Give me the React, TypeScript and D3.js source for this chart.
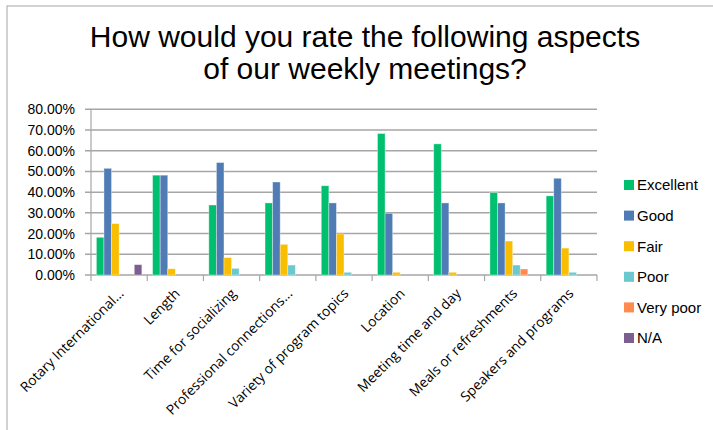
import React from 'react'
import * as d3 from 'd3'

const categories = [
  'Rotary International...',
  'Length',
  'Time for socializing',
  'Professional connections...',
  'Variety of program topics',
  'Location',
  'Meeting time and day',
  'Meals or refreshments',
  'Speakers and programs',
]

const seriesNames = ['Excellent', 'Good', 'Fair', 'Poor', 'Very poor', 'N/A']
const seriesColors = ['#00bf6f', '#507cb6', '#f9be00', '#6bc8cd', '#ff8b4f', '#7d5e90']

// percentages per category, in series order
const excellent = [18.2, 48.2, 33.8, 34.8, 43.1, 68.3, 63.3, 39.8, 38.2]
const good = [51.5, 48.2, 54.3, 44.9, 34.8, 29.8, 34.8, 34.8, 46.7]
const fair = [24.8, 3.0, 8.4, 14.8, 19.8, 1.3, 1.3, 16.4, 13.0]
const poor = [0, 0, 3.2, 4.8, 1.3, 0, 0, 4.8, 1.3]
const veryPoor = [0, 0, 0, 0, 0, 0, 0, 2.9, 0]
const na = [5.0, 0, 0, 0, 0, 0, 0, 0, 0]

const yTicks = [0, 10, 20, 30, 40, 50, 60, 70, 80]

const W = 713
const H = 430
const plot = { left: 91, right: 597, top: 109.3, bottom: 275 }

export default function App() {
  const series = [excellent, good, fair, poor, veryPoor, na]

  const y = d3.scaleLinear().domain([0, 80]).range([plot.bottom, plot.top])
  const x0 = d3.scaleBand<string>().domain(categories).range([plot.left, plot.right])
  const x1 = d3
    .scaleBand<string>()
    .domain(seriesNames)
    .range([0, x0.bandwidth()])
    .paddingInner(0)
    .paddingOuter(0.71)

  const axisFont = '"Liberation Sans", Arial, sans-serif'

  return (
    <div style={{ position: 'absolute', left: 0, top: 0 }}>
      <svg width={W} height={H} style={{ display: 'block', background: '#fff' }}>
        {/* chart frame */}
        <rect x={7} y={6} width={W + 20} height={H + 20} fill="#fff" stroke="#a6a6a6" strokeWidth={1} />

        {/* title */}
        <text x={365} textAnchor="middle" fontFamily={axisFont} fontSize={30} fill="#000">
          <tspan x={365} y={47}>How would you rate the following aspects</tspan>
          <tspan x={365} y={79}>of our weekly meetings?</tspan>
        </text>

        {/* gridlines + y labels */}
        {yTicks.map((t) => (
          <g key={t}>
            <line
              x1={plot.left - 6}
              x2={plot.right}
              y1={y(t)}
              y2={y(t)}
              stroke="#a6a6a6"
              strokeWidth={1.5}
            />
            <text
              x={75}
              y={y(t)}
              dy="0.36em"
              textAnchor="end"
              fontFamily={axisFont}
              fontSize={14}
              fill="#000"
            >
              {t.toFixed(2)}%
            </text>
          </g>
        ))}

        {/* y axis line */}
        <line x1={plot.left} x2={plot.left} y1={plot.top} y2={plot.bottom} stroke="#a6a6a6" strokeWidth={1.2} />

        {/* category ticks */}
        {[...categories.map((c) => x0(c) as number), plot.right].map((px, i) => (
          <line key={i} x1={px} x2={px} y1={plot.bottom} y2={plot.bottom + 6} stroke="#a6a6a6" strokeWidth={1.2} />
        ))}

        {/* bars */}
        {categories.map((c, ci) => (
          <g key={c} transform={`translate(${x0(c)},0)`}>
            {seriesNames.map((s, si) => {
              const v = series[si][ci]
              if (!v) return null
              return (
                <rect
                  key={s}
                  x={x1(s)}
                  y={y(v)}
                  width={x1.bandwidth()}
                  height={y(0) - y(v)}
                  fill={seriesColors[si]}
                  stroke="rgba(255,255,255,0.45)"
                  strokeWidth={0.8}
                />
              )
            })}
          </g>
        ))}

        {/* category labels */}
        {categories.map((c) => {
          const cx = (x0(c) as number) + x0.bandwidth() / 2 + 2
          const cy = plot.bottom + 16
          return (
            <text
              key={c}
              transform={`translate(${cx},${cy}) rotate(-45)`}
              textAnchor="end"
              dy="0.35em"
              fontFamily='"Open Sans", sans-serif'
              fontSize={13.8}
              fill="#000"
            >
              {c}
            </text>
          )
        })}

        {/* legend */}
        {seriesNames.map((s, i) => {
          const ly = 185 + i * 30.6
          return (
            <g key={s}>
              <rect x={624} y={ly - 5} width={10} height={10} fill={seriesColors[i]} />
              <text x={637} y={ly} dy="0.36em" fontFamily={axisFont} fontSize={15} fill="#000">
                {s}
              </text>
            </g>
          )
        })}
      </svg>
    </div>
  )
}
